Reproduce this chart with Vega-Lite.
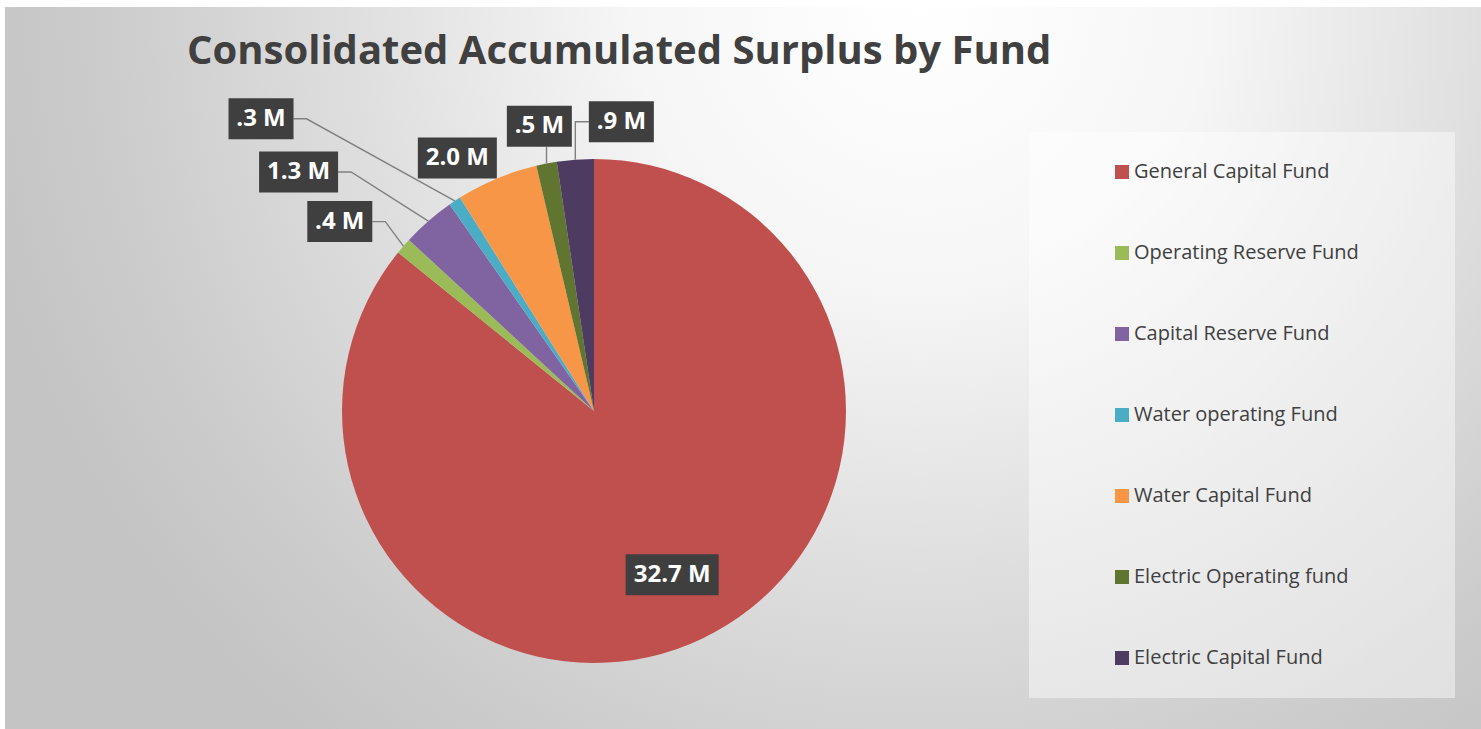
{
  "$schema": "https://vega.github.io/schema/vega-lite/v6.json",
  "autosize": {"type": "fit", "contains": "padding"},
  "width": 1481,
  "height": 729,
  "padding": {"left": 5, "top": 7, "right": 0, "bottom": 0},
  "background": "#ffffff",
  "config": {
    "view": {
      "stroke": null,
      "fill": {
        "gradient": "radial",
        "x1": 0.62, "y1": 0.25, "r1": 0,
        "x2": 0.62, "y2": 0.25, "r2": 0.65,
        "stops": [
          {"offset": 0, "color": "#ffffff"},
          {"offset": 0.3, "color": "#f6f6f6"},
          {"offset": 0.6, "color": "#dedede"},
          {"offset": 0.85, "color": "#cccccc"},
          {"offset": 1, "color": "#c4c4c4"}
        ]
      }
    },
    "font": "Open Sans"
  },
  "title": {
    "text": "Consolidated Accumulated Surplus by Fund",
    "anchor": "start",
    "orient": "top",
    "baseline": "alphabetic",
    "offset": -97,
    "dx": 182,
    "fontSize": 40,
    "fontWeight": "bold",
    "font": "Open Sans",
    "color": "#404040"
  },
  "data": {
    "values": [
      {"fund": "General Capital Fund", "value": 32.7, "order": 1},
      {"fund": "Operating Reserve Fund", "value": 0.4, "order": 2},
      {"fund": "Capital Reserve Fund", "value": 1.3, "order": 3},
      {"fund": "Water operating Fund", "value": 0.3, "order": 4},
      {"fund": "Water Capital Fund", "value": 2.0, "order": 5},
      {"fund": "Electric Operating fund", "value": 0.5, "order": 6},
      {"fund": "Electric Capital Fund", "value": 0.9, "order": 7}
    ]
  },
  "transform": [
    {"window": [{"op": "sum", "field": "value", "as": "cum"}], "sort": [{"field": "order"}], "frame": [null, 0]},
    {"joinaggregate": [{"op": "sum", "field": "value", "as": "total"}]},
    {"calculate": "2*PI*(datum.cum-datum.value)/datum.total", "as": "a0"},
    {"calculate": "2*PI*datum.cum/datum.total", "as": "a1"},
    {"calculate": "(datum.a0+datum.a1)/2", "as": "am"},
    {"calculate": "datum.value/datum.total", "as": "share"},
    {"calculate": "datum.value < 1 ? substring(format(datum.value,'.1f'),1) + ' M' : format(datum.value,'.1f') + ' M'", "as": "label"},
    {"calculate": "(9+14*length(datum.label))/2", "as": "hw"},
    {"calculate": "252*sin(datum.am)", "as": "ex"},
    {"calculate": "252*cos(datum.am)", "as": "ey"},
    {"calculate": "datum.share > 0.5 ? -1 : floor(datum.am*6/PI)", "as": "sector"},
    {"window": [{"op": "row_number", "as": "j"}], "groupby": ["sector"], "sort": [{"field": "order"}]},
    {"calculate": "datum.ex - datum.hw", "as": "exl"},
    {"joinaggregate": [{"op": "min", "field": "a0", "as": "sa"}, {"op": "min", "field": "exl", "as": "sx"}], "groupby": ["sector"]},
    {"calculate": "abs(sin((datum.sector+0.5)*PI/6)) > 0.5", "as": "radial"},
    {"calculate": "datum.sa + 0.04*(datum.j-2)", "as": "sang"},
    {"calculate": "317 + 63*(datum.j-1)", "as": "srad"},
    {"calculate": "datum.share > 0.5 ? 0.72*252*sin(datum.am) : datum.radial ? datum.srad*sin(datum.sang) : datum.sx + (datum.j-1)*82", "as": "lx"},
    {"calculate": "datum.share > 0.5 ? 0.72*252*cos(datum.am) : datum.radial ? datum.srad*cos(datum.sang) : (datum.j == 1 ? datum.ey + 20.5 : 290*cos(datum.am))", "as": "ly"}
  ],
  "layer": [
    {
      "mark": {"type": "arc", "outerRadius": 252},
      "encoding": {
        "x": {"datum": 0, "type": "quantitative", "scale": {"domain": [-589, 887], "nice": false, "zero": false}, "axis": null},
        "y": {"datum": 0, "type": "quantitative", "scale": {"domain": [-318, 404], "nice": false, "zero": false}, "axis": null},
        "theta": {"field": "a0", "type": "quantitative", "scale": null, "stack": null},
        "theta2": {"field": "a1"},
        "color": {
          "field": "fund",
          "type": "nominal",
          "scale": {
            "domain": ["General Capital Fund", "Operating Reserve Fund", "Capital Reserve Fund", "Water operating Fund", "Water Capital Fund", "Electric Operating fund", "Electric Capital Fund"],
            "range": ["#C0504D", "#9BBB59", "#8064A2", "#4BACC6", "#F79646", "#5F7530", "#4D3B62"]
          },
          "legend": {
            "orient": "none",
            "legendX": 1024,
            "legendY": 125,
            "title": "Fund",
            "titleOrient": "right",
            "titleOpacity": 0,
            "titleFontSize": 10,
            "titlePadding": 41,
            "symbolType": "square",
            "symbolSize": 196,
            "symbolStrokeWidth": 0,
            "symbolOffset": 53,
            "labelFont": "Open Sans",
            "labelFontSize": 20,
            "labelColor": "#404040",
            "labelOffset": 2,
            "labelLimit": 0,
            "rowPadding": 61,
            "padding": 30,
            "fillColor": "rgba(255,255,255,0.45)"
          }
        }
      }
    },
    {
      "transform": [
        {"calculate": "datum.share > 0.5 ? [] : datum.radial ? [datum.ex, datum.lx + datum.hw + 13, datum.lx + datum.hw] : (datum.j == 1 ? [] : (datum.ex >= datum.lx - datum.hw ? [datum.ex, datum.ex] : [datum.ex, datum.ex, datum.lx - datum.hw]))", "as": "px"},
        {"calculate": "datum.share > 0.5 ? [] : datum.radial ? [datum.ey, datum.ly, datum.ly] : (datum.j == 1 ? [] : (datum.ex >= datum.lx - datum.hw ? [datum.ey, datum.ly - 20.5] : [datum.ey, datum.ly, datum.ly]))", "as": "py"},
        {"calculate": "datum.share > 0.5 ? [] : datum.radial ? [0, 1, 2] : (datum.j == 1 ? [] : (datum.ex >= datum.lx - datum.hw ? [0, 1] : [0, 1, 2]))", "as": "pi"},
        {"flatten": ["px", "py", "pi"], "as": ["fx", "fy", "fi"]}
      ],
      "mark": {"type": "line", "color": "#808080", "strokeWidth": 1.4},
      "encoding": {
        "x": {"field": "fx", "type": "quantitative", "scale": {"domain": [-589, 887], "nice": false, "zero": false}, "axis": null},
        "y": {"field": "fy", "type": "quantitative", "scale": {"domain": [-318, 404], "nice": false, "zero": false}, "axis": null},
        "detail": {"field": "fund"},
        "order": {"field": "fi", "type": "quantitative"}
      }
    },
    {
      "transform": [
        {"calculate": "datum.lx - datum.hw", "as": "bx0"},
        {"calculate": "datum.lx + datum.hw", "as": "bx1"},
        {"calculate": "datum.ly - 20.5", "as": "by0"},
        {"calculate": "datum.ly + 20.5", "as": "by1"}
      ],
      "mark": {"type": "rect", "color": "#3f3f3f"},
      "encoding": {
        "x": {"field": "bx0", "type": "quantitative", "scale": {"domain": [-589, 887], "nice": false, "zero": false}, "axis": null},
        "x2": {"field": "bx1"},
        "y": {"field": "by0", "type": "quantitative", "scale": {"domain": [-318, 404], "nice": false, "zero": false}, "axis": null},
        "y2": {"field": "by1"}
      }
    },
    {
      "mark": {"type": "text", "color": "#ffffff", "font": "Open Sans", "fontSize": 24, "fontWeight": "bold", "align": "center", "baseline": "middle"},
      "encoding": {
        "x": {"field": "lx", "type": "quantitative", "scale": {"domain": [-589, 887], "nice": false, "zero": false}, "axis": null},
        "y": {"field": "ly", "type": "quantitative", "scale": {"domain": [-318, 404], "nice": false, "zero": false}, "axis": null},
        "text": {"field": "label"}
      }
    }
  ]
}
